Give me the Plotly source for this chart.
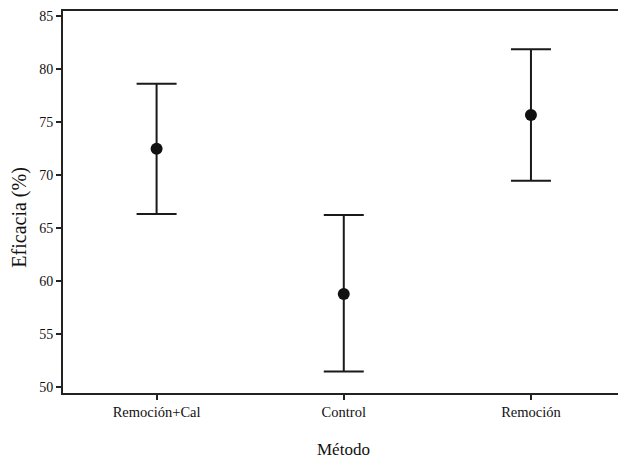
import plotly.graph_objects as go

categories = ["Remoción+Cal", "Control", "Remoción"]
means = [72.5, 58.8, 75.7]
upper = [78.65, 66.25, 81.9]
lower = [66.35, 51.5, 69.5]
y_ticks = [50, 55, 60, 65, 70, 75, 80, 85]

err_plus = [u - m for u, m in zip(upper, means)]
err_minus = [m - l for m, l in zip(means, lower)]

fig = go.Figure()
fig.add_trace(go.Scatter(
    x=[0, 1, 2], y=means, mode="markers",
    marker=dict(size=12, color="#111111"),
    error_y=dict(type="data", symmetric=False, array=err_plus, arrayminus=err_minus,
                 color="#1a1a1a", thickness=2, width=20),
    showlegend=False,
))

font = "Liberation Serif, Times New Roman, serif"
fig.update_layout(
    width=618, height=459,
    margin=dict(l=63, r=0, t=11, b=66, autoexpand=False),
    plot_bgcolor="white", paper_bgcolor="white",
    font=dict(family=font, color="#111111"),
    xaxis=dict(range=[-0.5, 2.465], tickmode="array", tickvals=[0, 1, 2], ticktext=categories,
               showline=True, linecolor="#222222", linewidth=2, mirror=True,
               ticks="outside", ticklen=5, tickwidth=1.5, tickcolor="#222222",
               showgrid=False, zeroline=False, automargin=False,
               tickfont=dict(size=14.5, family=font, color="#111111")),
    yaxis=dict(range=[49.47, 85.5], tickmode="array", tickvals=y_ticks,
               showline=True, linecolor="#222222", linewidth=2,
               ticks="outside", ticklen=5, tickwidth=1.5, tickcolor="#222222",
               showgrid=False, zeroline=False, automargin=False,
               tickfont=dict(size=14, family=font, color="#111111")),
    annotations=[
        dict(text="Eficacia (%)", textangle=-90, xref="paper", yref="paper",
             x=-0.08, y=0.458, xanchor="center", yanchor="middle", showarrow=False,
             font=dict(size=20, family=font, color="#111111")),
        dict(text="Método", xref="paper", yref="paper",
             x=(343.5 - 63.3) / 554.7, y=-0.149, xanchor="center", yanchor="middle", showarrow=False,
             font=dict(size=17, family=font, color="#111111")),
    ],
)

fig.write_html("out.html", config={"displayModeBar": False},
               post_script="document.body.style.margin='0';document.body.style.overflow='hidden';")
